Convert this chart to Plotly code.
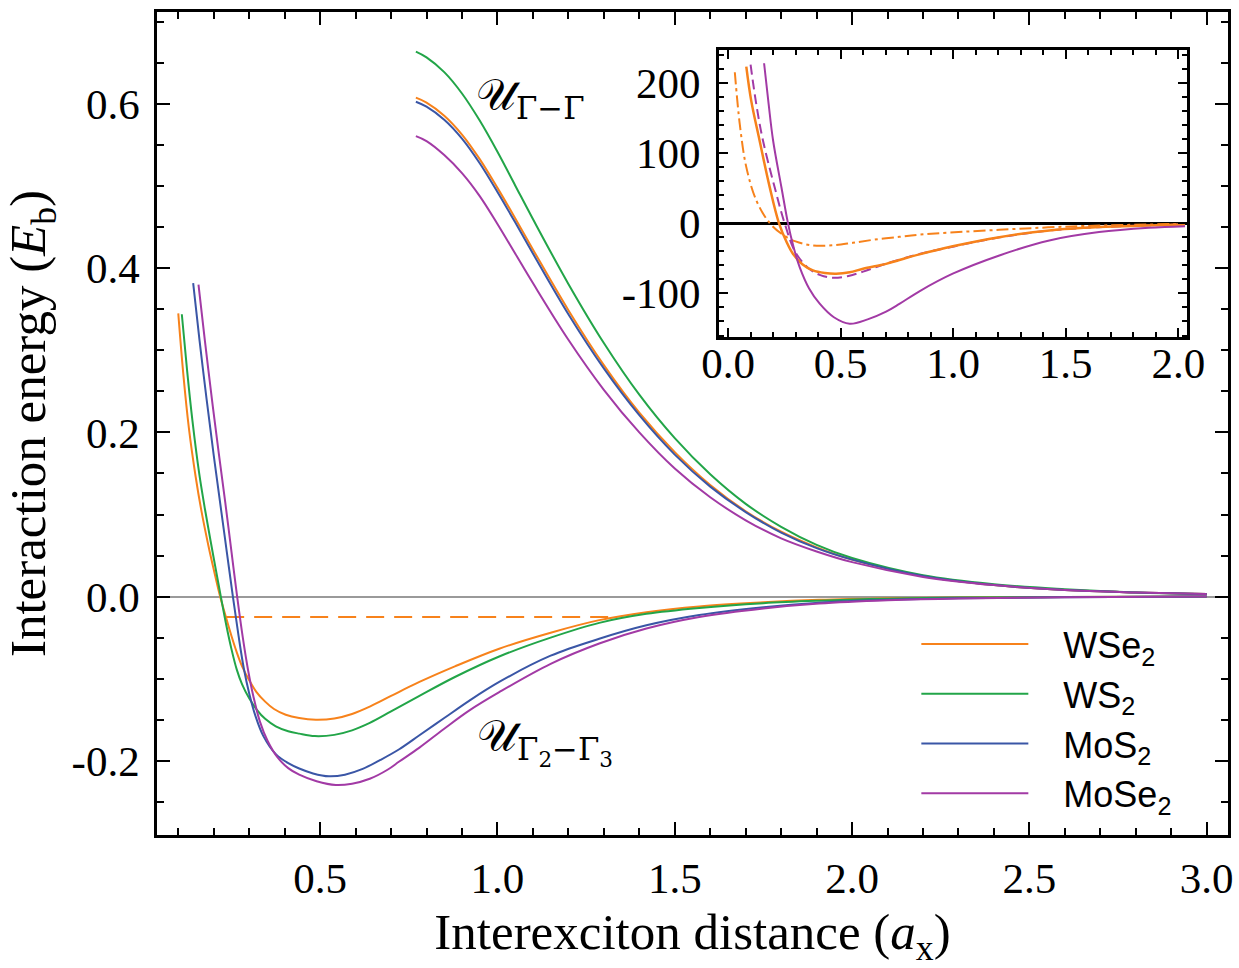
import plotly.graph_objects as go

# ---------------- data ----------------
# U_{Γ2-Γ3} curves (main panel, lower family)
wse2_low_x = [0.100, 0.114, 0.130, 0.149, 0.165, 0.185, 0.200, 0.218, 0.235, 0.250, 0.265, 0.280, 0.300, 0.320, 0.345, 0.370, 0.403, 0.441, 0.488, 0.540, 0.590, 0.640, 0.700, 0.780, 0.880, 1.005, 1.150, 1.287, 1.420, 1.569, 1.750, 1.907, 2.100, 2.300, 2.600, 3.000]
wse2_low_y = [0.345, 0.272, 0.205, 0.146, 0.105, 0.062, 0.033, 0.000, -0.026, -0.048, -0.068, -0.085, -0.102, -0.116, -0.128, -0.137, -0.144, -0.148, -0.150, -0.1485, -0.143, -0.134, -0.121, -0.104, -0.085, -0.0635, -0.044, -0.0287, -0.019, -0.012, -0.007, -0.004, -0.002, -0.001, -0.0005, 0.0]

ws2_low_x = [0.110, 0.125, 0.140, 0.159, 0.175, 0.191, 0.205, 0.220, 0.235, 0.250, 0.265, 0.280, 0.300, 0.320, 0.345, 0.375, 0.410, 0.441, 0.485, 0.540, 0.590, 0.640, 0.700, 0.780, 0.880, 1.005, 1.150, 1.287, 1.420, 1.569, 1.750, 1.907, 2.100, 2.300, 2.600, 3.000]
ws2_low_y = [0.344, 0.275, 0.214, 0.150, 0.107, 0.068, 0.035, 0.000, -0.034, -0.064, -0.089, -0.107, -0.124, -0.137, -0.149, -0.158, -0.164, -0.167, -0.170, -0.1685, -0.163, -0.154, -0.140, -0.121, -0.098, -0.073, -0.050, -0.032, -0.021, -0.0138, -0.008, -0.005, -0.0025, -0.0012, -0.0005, 0.0]

mos2_low_x = [0.142, 0.160, 0.180, 0.200, 0.220, 0.237, 0.254, 0.270, 0.285, 0.300, 0.318, 0.340, 0.375, 0.410, 0.441, 0.480, 0.525, 0.570, 0.620, 0.670, 0.723, 0.780, 0.850, 0.920, 1.005, 1.150, 1.287, 1.420, 1.569, 1.750, 1.907, 2.100, 2.300, 2.600, 3.000]
mos2_low_y = [0.382, 0.312, 0.240, 0.172, 0.108, 0.054, 0.000, -0.048, -0.088, -0.118, -0.146, -0.170, -0.192, -0.203, -0.2095, -0.2155, -0.219, -0.217, -0.210, -0.199, -0.186, -0.169, -0.148, -0.127, -0.104, -0.072, -0.0514, -0.035, -0.0225, -0.013, -0.0075, -0.004, -0.002, -0.0008, 0.0]

mose2_low_x = [0.157, 0.175, 0.195, 0.215, 0.233, 0.249, 0.266, 0.282, 0.297, 0.312, 0.330, 0.352, 0.380, 0.410, 0.441, 0.490, 0.544, 0.590, 0.640, 0.690, 0.723, 0.780, 0.850, 0.920, 1.005, 1.150, 1.287, 1.420, 1.569, 1.750, 1.907, 2.100, 2.300, 2.600, 3.000]
mose2_low_y = [0.380, 0.312, 0.240, 0.172, 0.113, 0.058, 0.000, -0.050, -0.090, -0.122, -0.152, -0.176, -0.196, -0.209, -0.217, -0.225, -0.2296, -0.228, -0.222, -0.211, -0.201, -0.184, -0.161, -0.139, -0.1165, -0.082, -0.0572, -0.039, -0.025, -0.0145, -0.0085, -0.0045, -0.0022, -0.0009, 0.0]

# U_{Γ-Γ} curves (main panel, upper family)
high_x = [0.77, 0.80, 0.85, 0.90, 0.95, 1.00, 1.05, 1.10, 1.20, 1.30, 1.40, 1.50, 1.60, 1.70, 1.80, 1.90, 2.00, 2.20, 2.40, 2.60, 2.80, 3.00]
wse2_high_y = [0.608, 0.602, 0.586, 0.563, 0.533, 0.498, 0.461, 0.423, 0.349, 0.282, 0.224, 0.176, 0.136, 0.104, 0.079, 0.060, 0.045, 0.025, 0.014, 0.008, 0.005, 0.003]
ws2_high_y = [0.664, 0.657, 0.639, 0.613, 0.580, 0.542, 0.501, 0.460, 0.381, 0.309, 0.246, 0.193, 0.149, 0.113, 0.085, 0.063, 0.047, 0.026, 0.015, 0.009, 0.005, 0.003]
mos2_high_y = [0.603, 0.597, 0.581, 0.558, 0.528, 0.493, 0.456, 0.418, 0.344, 0.278, 0.221, 0.173, 0.134, 0.103, 0.078, 0.059, 0.045, 0.025, 0.014, 0.008, 0.005, 0.003]
mose2_high_y = [0.561, 0.555, 0.538, 0.516, 0.488, 0.454, 0.418, 0.382, 0.313, 0.252, 0.200, 0.156, 0.121, 0.093, 0.071, 0.055, 0.042, 0.024, 0.014, 0.008, 0.005, 0.003]

# dashed level (WSe2)
level_x = [0.235, 1.330]
level_y = [-0.0248, -0.0248]

# inset curves
in_wse2_x = [0.081, 0.103, 0.140, 0.185, 0.226, 0.260, 0.288, 0.330, 0.377, 0.430, 0.480, 0.540, 0.600, 0.702, 0.761, 0.850, 0.998, 1.205, 1.427, 1.648, 2.030]
in_wse2_y = [222.9, 174.0, 117.6, 51.2, 0.0, -27.0, -43.6, -58.5, -67.3, -71.0, -72.0, -70.0, -65.0, -58.0, -52.5, -44.5, -33.0, -20.0, -10.4, -5.7, -1.9]

in_wse2_b_x = [0.030, 0.052, 0.081, 0.126, 0.185, 0.250, 0.300, 0.377, 0.470, 0.554, 0.650, 0.761, 0.850, 0.980, 1.205, 1.427, 1.648, 2.030]
in_wse2_b_y = [214.8, 141.0, 79.7, 32.0, 0.0, -18.0, -26.0, -31.8, -31.5, -28.0, -23.5, -19.5, -16.5, -13.5, -9.5, -6.0, -3.5, -1.0]

in_mose2_b_x = [0.100, 0.125, 0.155, 0.207, 0.251, 0.300, 0.360, 0.410, 0.466, 0.530, 0.600, 0.680, 0.761, 0.850, 0.998, 1.205, 1.427, 1.648, 2.030]
in_mose2_b_y = [225.7, 170.0, 117.6, 51.0, 0.0, -42.0, -65.0, -74.0, -77.8, -75.5, -69.0, -60.0, -52.0, -44.0, -33.5, -20.3, -10.6, -5.8, -1.9]

in_mose2_x = [0.160, 0.180, 0.200, 0.237, 0.266, 0.290, 0.318, 0.360, 0.407, 0.470, 0.540, 0.620, 0.702, 0.761, 0.850, 0.998, 1.205, 1.427, 1.648, 1.870, 2.030]
in_mose2_y = [227.6, 170.0, 117.6, 51.0, 0.0, -33.0, -62.6, -93.0, -114.7, -134.0, -143.2, -137.0, -126.0, -115.0, -97.0, -72.0, -46.0, -24.7, -12.8, -6.6, -4.3]

# ticks
main_xtick_vals = [0.5, 1.0, 1.5, 2.0, 2.5, 3.0]
main_xtick_text = ["0.5", "1.0", "1.5", "2.0", "2.5", "3.0"]
main_ytick_vals = [-0.2, 0.0, 0.2, 0.4, 0.6]
main_ytick_text = ["-0.2", "0.0", "0.2", "0.4", "0.6"]
in_xtick_vals = [0.0, 0.5, 1.0, 1.5, 2.0]
in_xtick_text = ["0.0", "0.5", "1.0", "1.5", "2.0"]
in_ytick_vals = [-100, 0, 100, 200]
in_ytick_text = ["-100", "0", "100", "200"]

NB = "\u00a0\u00a0\u00a0"
names = [NB + "WSe<sub>2</sub>", NB + "WS<sub>2</sub>", NB + "MoS<sub>2</sub>", NB + "MoSe<sub>2</sub>"]
colors = ["#F7821B", "#22A548", "#3A56A6", "#A23AA5"]

# ---------------- figure ----------------
fig = go.Figure()
LW = 2.0
SM = 1.0
lows = [(wse2_low_x, wse2_low_y), (ws2_low_x, ws2_low_y), (mos2_low_x, mos2_low_y), (mose2_low_x, mose2_low_y)]
highs = [wse2_high_y, ws2_high_y, mos2_high_y, mose2_high_y]

fig.add_trace(go.Scatter(x=level_x, y=level_y, mode="lines", showlegend=False,
                         line=dict(color=colors[0], width=2, dash="18px,10px")))
for i in range(4):
    fig.add_trace(go.Scatter(x=high_x, y=highs[i], mode="lines", showlegend=False,
                             line=dict(color=colors[i], width=LW, shape="spline", smoothing=SM)))
for i in range(4):
    fig.add_trace(go.Scatter(x=lows[i][0], y=lows[i][1], mode="lines", name=names[i],
                             line=dict(color=colors[i], width=LW, shape="spline", smoothing=SM)))

# inset
fig.add_trace(go.Scatter(x=in_wse2_b_x, y=in_wse2_b_y, mode="lines", showlegend=False, xaxis="x2", yaxis="y2",
                         line=dict(color=colors[0], width=2, dash="12px,4px,3px,4px", shape="spline", smoothing=SM)))
fig.add_trace(go.Scatter(x=in_mose2_b_x, y=in_mose2_b_y, mode="lines", showlegend=False, xaxis="x2", yaxis="y2",
                         line=dict(color=colors[3], width=2, dash="10px,5px", shape="spline", smoothing=SM)))
fig.add_trace(go.Scatter(x=in_wse2_x, y=in_wse2_y, mode="lines", showlegend=False, xaxis="x2", yaxis="y2",
                         line=dict(color=colors[0], width=2.5, shape="spline", smoothing=SM)))
fig.add_trace(go.Scatter(x=in_mose2_x, y=in_mose2_y, mode="lines", showlegend=False, xaxis="x2", yaxis="y2",
                         line=dict(color=colors[3], width=2, shape="spline", smoothing=SM)))

SERIF = "Liberation Serif"
TICKF = dict(family=SERIF, size=43, color="black")
TITLEF = dict(family=SERIF, size=51, color="black")

fig.update_layout(
    template="none",
    width=1239, height=968,
    margin=dict(l=157, r=11, t=12, b=133, autoexpand=False),
    paper_bgcolor="white", plot_bgcolor="white",
    font=dict(family=SERIF, color="black"),
    xaxis=dict(range=[0.04, 3.06], showgrid=False, zeroline=False, automargin=True,
               showline=True, linecolor="black", linewidth=2.5, mirror="allticks",
               ticks="inside", ticklen=13, tickwidth=2, tickcolor="black",
               tickvals=main_xtick_vals, ticktext=main_xtick_text, tickfont=TICKF,
               ticklabelstandoff=4,
               minor=dict(dtick=0.1, tick0=0, ticks="inside", ticklen=7, tickwidth=2, tickcolor="black"),
               title=dict(text="Interexciton distance (<i>a</i><sub>x</sub>)", font=TITLEF, standoff=17)),
    yaxis=dict(range=[-0.2905, 0.7123], showgrid=False, automargin=True,
               zeroline=True, zerolinecolor="#9a9a9a", zerolinewidth=2,
               showline=True, linecolor="black", linewidth=2.5, mirror="allticks",
               ticks="inside", ticklen=13, tickwidth=2, tickcolor="black",
               tickvals=main_ytick_vals, ticktext=main_ytick_text, tickfont=TICKF,
               ticklabelstandoff=6,
               minor=dict(dtick=0.05, tick0=0, ticks="inside", ticklen=7, tickwidth=2, tickcolor="black"),
               title=dict(text="Interaction energy (<i>E</i><sub>b</sub>)", font=TITLEF, standoff=30)),
    xaxis2=dict(domain=[0.5248, 0.962], anchor="y2", range=[-0.04, 2.04], showgrid=False, zeroline=False,
                automargin=False,
                showline=True, linecolor="black", linewidth=3, mirror="allticks",
                ticks="inside", ticklen=9, tickwidth=2, tickcolor="black",
                tickvals=in_xtick_vals, ticktext=in_xtick_text, tickfont=TICKF,
                ticklabelstandoff=-14,
                minor=dict(dtick=0.1, tick0=0, ticks="inside", ticklen=5, tickwidth=2, tickcolor="black")),
    yaxis2=dict(domain=[0.6052, 0.9543], anchor="x2", range=[-162, 247], showgrid=False, automargin=False,
                zeroline=True, zerolinecolor="black", zerolinewidth=2.5,
                showline=True, linecolor="black", linewidth=3, mirror="allticks",
                ticks="inside", ticklen=9, tickwidth=2, tickcolor="black",
                tickvals=in_ytick_vals, ticktext=in_ytick_text, tickfont=TICKF,
                ticklabelstandoff=7,
                minor=dict(dtick=20, tick0=0, ticks="inside", ticklen=5, tickwidth=2, tickcolor="black")),
    legend=dict(x=0.709, y=0.2685, xanchor="left", yanchor="top", bgcolor="rgba(0,0,0,0)",
                font=dict(family="Liberation Sans", size=36, color="black"),
                itemwidth=107, tracegroupgap=0),
    annotations=[
        dict(x=1.092, y=0.608, xref="x", yref="y", showarrow=False,
             text="𝒰<sub>Γ−Γ</sub>", font=dict(family="DejaVu Serif", size=44, color="black")),
        dict(x=1.135, y=-0.176, xref="x", yref="y", showarrow=False,
             text="𝒰<sub>Γ<sub>2</sub>−Γ<sub>3</sub></sub>", font=dict(family="DejaVu Serif", size=44, color="black")),
    ],
)

fig.write_html("out.html", config={"displayModeBar": False},
               post_script="document.body.style.margin='0';document.body.style.overflow='hidden';")
